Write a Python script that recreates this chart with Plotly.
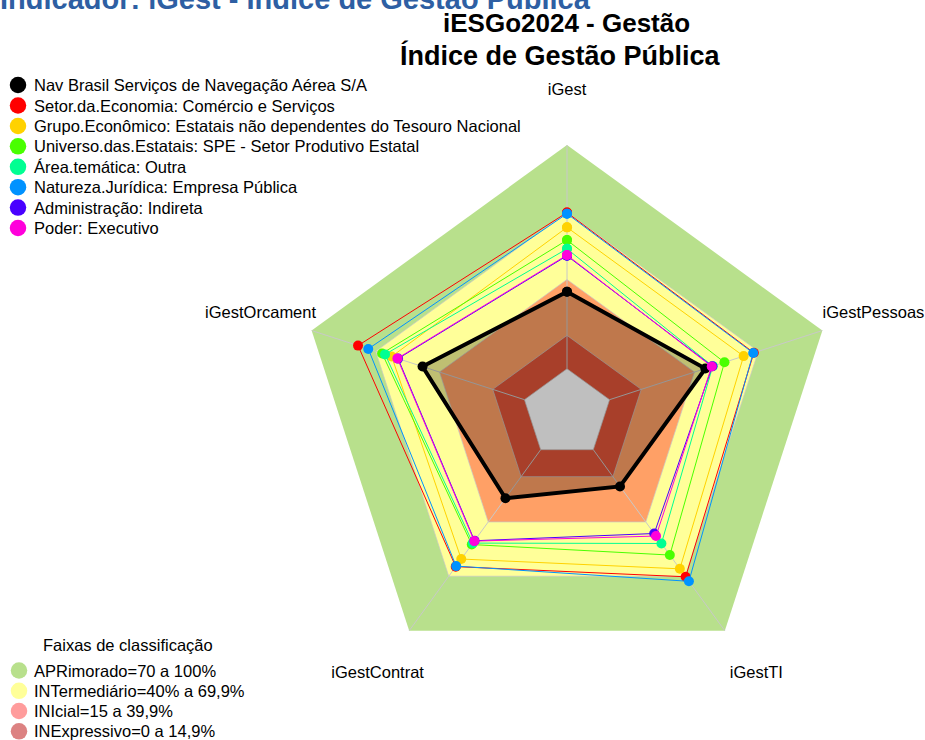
import plotly.graph_objects as go

W, H = 925, 740
OFF = 0  # body margin is removed by the post script below
FONT = "Liberation Sans, Arial, sans-serif"

# ---------------- data ----------------
axes_labels = ["iGest", "iGestPessoas", "iGestTI", "iGestContrat", "iGestOrcament"]

series_names = [
    "Nav Brasil Serviços de Navegação Aérea S/A",
    "Setor.da.Economia: Comércio e Serviços",
    "Grupo.Econômico: Estatais não dependentes do Tesouro Nacional",
    "Universo.das.Estatais: SPE - Setor Produtivo Estatal",
    "Área.temática: Outra",
    "Natureza.Jurídica: Empresa Pública",
    "Administração: Indireta",
    "Poder: Executivo",
]
series_colors = ["#000000", "#FF0000", "#FFD200", "#49FF00", "#00FF92", "#0092FF", "#4900FF", "#FF00DB"]

nav_brasil     = [34.4, 45.0, 20.3, 26.8, 47.9]
setor_economia = [69.8, 67.8, 70.2, 64.6, 78.2]
grupo_economic = [63.2, 63.0, 65.8, 60.4, 62.4]
universo       = [57.5, 54.0, 58.2, 52.4, 66.9]
area_tematica  = [53.6, 48.5, 51.8, 51.6, 65.5]
natureza       = [69.3, 67.5, 72.7, 64.3, 73.4]
administracao  = [50.5, 48.3, 46.3, 50.3, 59.4]
poder          = [50.8, 48.0, 47.7, 50.5, 59.7]
series_values = [nav_brasil, setor_economia, grupo_economic, universo,
                 area_tematica, natureza, administracao, poder]

band_names = ["APRimorado=70 a 100%", "INTermediário=40% a 69,9%",
              "INIcial=15 a 39,9%", "INExpressivo=0 a 14,9%"]
band_upper = [100, 69.9, 39.9, 14.9]
band_fill = ["#B8E08C", "#FFFF99", "#FFA066", "#E05538"]
band_legend_colors = ["#B8E08C", "#FFFF99", "#FF9C9C", "#DC8282"]
center_value = 0

# ---------------- geometry (screen pixels) ----------------
CX, CY, R = 567, 413.5, 268.5      # centre and radius of the value-100 pentagon
R_MIN, R_MAX = -20, 100            # value 0 sits at 1/6 of the radius
LABEL_R = R_MIN + 1.2 * (R_MAX - R_MIN)   # axis labels at 1.2 x radius
R_TOP = LABEL_R + 1                # radial range end, so labels stay inside the range
R_PIX = R * (R_TOP - R_MIN) / (R_MAX - R_MIN)

def closed(v):
    return list(v) + [v[0]]

theta_c = closed(axes_labels)

fig = go.Figure()

# classification bands
for name, up, col in zip(band_names, band_upper, band_fill):
    fig.add_trace(go.Scatterpolar(
        r=closed([up] * 5), theta=theta_c, mode="lines", fill="toself",
        fillcolor=col,
        line=dict(color="rgba(200,200,200,0.7)" if up < 100 else col, width=1 if up < 100 else 0),
        showlegend=False, hoverinfo="skip"))
# centre hole
fig.add_trace(go.Scatterpolar(
    r=closed([center_value] * 5), theta=theta_c, mode="lines", fill="toself",
    fillcolor="#FFFFFF", line=dict(color="rgba(200,200,200,0.7)", width=1),
    showlegend=False, hoverinfo="skip"))

# spokes
for a in axes_labels:
    fig.add_trace(go.Scatterpolar(
        r=[center_value, 100], theta=[a, a], mode="lines",
        line=dict(color="#C8C8C8", width=1), showlegend=False, hoverinfo="skip"))

# series
for i, (name, vals, col) in enumerate(zip(series_names, series_values, series_colors)):
    if i == 0:
        fig.add_trace(go.Scatterpolar(
            r=closed(vals), theta=theta_c, mode="lines+markers", name=name,
            fill="toself", fillcolor="rgba(0,0,0,0.25)",
            line=dict(color=col, width=4), marker=dict(color=col, size=10),
            showlegend=False))
    else:
        fig.add_trace(go.Scatterpolar(
            r=closed(vals), theta=theta_c, mode="lines+markers", name=name,
            line=dict(color=col, width=1), marker=dict(color=col, size=10),
            showlegend=False))

# axis labels
fig.add_trace(go.Scatterpolar(
    r=[LABEL_R] * 5, theta=axes_labels, mode="text", text=axes_labels,
    textposition="middle center",
    textfont=dict(family=FONT, size=16.5, color="#000000"), cliponaxis=False,
    showlegend=False, hoverinfo="skip"))

# ---------------- manual legends (overlay cartesian in screen pixels) ----------------
leg1_y = [85, 105.5, 126, 146.3, 166.8, 187.2, 207.6, 228]
fig.add_trace(go.Scatter(
    x=[18] * len(series_names), y=leg1_y, mode="markers",
    marker=dict(color=series_colors, size=16.5), showlegend=False, hoverinfo="skip",
    xaxis="x", yaxis="y", cliponaxis=False))
leg2_y = [670.5, 690.8, 711, 731.3]
fig.add_trace(go.Scatter(
    x=[19] * len(band_names), y=leg2_y, mode="markers",
    marker=dict(color=band_legend_colors, size=16.5), showlegend=False, hoverinfo="skip",
    xaxis="x", yaxis="y", cliponaxis=False))

def px(sx):
    return (sx - OFF) / W

def py(sy):
    return 1 - (sy - OFF) / H

annotations = []
for name, y in zip(series_names, leg1_y):
    annotations.append(dict(x=32, y=y, xref="x", yref="y", text=name, showarrow=False,
                            xanchor="left", yanchor="middle",
                            font=dict(family=FONT, size=16.5, color="#000000")))
annotations.append(dict(x=128, y=645, xref="x", yref="y", text="Faixas de classificação",
                        showarrow=False, xanchor="center", yanchor="middle",
                        font=dict(family=FONT, size=16.5, color="#000000")))
for name, y in zip(band_names, leg2_y):
    annotations.append(dict(x=32, y=y, xref="x", yref="y", text=name, showarrow=False,
                            xanchor="left", yanchor="middle",
                            font=dict(family=FONT, size=16.5, color="#000000")))
# clipped header at the very top (paper coordinates, partly outside the page)
annotations.append(dict(x=px(-2), y=py(-2), xref="paper", yref="paper",
                        text="<b>Indicador: iGest - Índice de Gestão Pública</b>",
                        showarrow=False, xanchor="left", yanchor="middle",
                        font=dict(family=FONT, size=29, color="#2E5FA3")))
# title
annotations.append(dict(x=px(566), y=py(23.5), xref="paper", yref="paper",
                        text="<b>iESGo2024 - Gestão</b>",
                        showarrow=False, xanchor="center", yanchor="middle",
                        font=dict(family=FONT, size=26, color="#000000")))
annotations.append(dict(x=px(560), y=py(55.5), xref="paper", yref="paper",
                        text="<b>Índice de Gestão Pública</b>",
                        showarrow=False, xanchor="center", yanchor="middle",
                        font=dict(family=FONT, size=27, color="#000000")))

fig.update_layout(
    width=W, height=H,
    margin=dict(l=0, r=0, t=0, b=0),
    paper_bgcolor="#FFFFFF", plot_bgcolor="rgba(0,0,0,0)",
    showlegend=False,
    font=dict(family=FONT, size=16, color="#000000"),
    xaxis=dict(range=[OFF, W + OFF], domain=[0, 1], visible=False, fixedrange=True),
    yaxis=dict(range=[H + OFF, OFF], domain=[0, 1], visible=False, fixedrange=True),
    polar=dict(
        domain=dict(x=[px(CX - R_PIX), px(CX + R_PIX)],
                    y=[py(CY + R_PIX), py(CY - R_PIX)]),
        bgcolor="rgba(0,0,0,0)",
        gridshape="linear",
        angularaxis=dict(type="category", categoryarray=axes_labels, direction="clockwise",
                         rotation=90, showgrid=False, showline=False,
                         showticklabels=False, ticks=""),
        radialaxis=dict(visible=False, range=[R_MIN, R_TOP]),
    ),
    annotations=annotations,
)

fig.write_html("out.html",
               config={"displayModeBar": False},
               post_script="document.body.style.margin='0px';document.body.style.overflow='hidden';")
